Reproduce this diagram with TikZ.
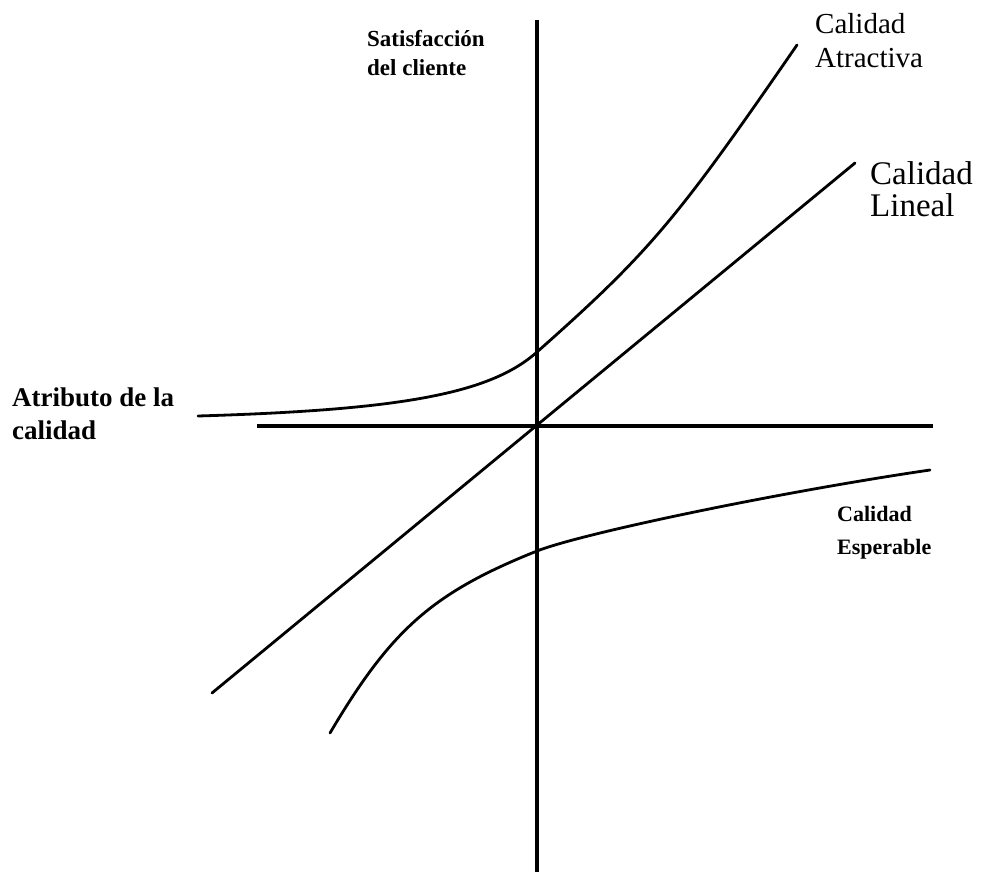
\documentclass[tikz,border=0pt]{standalone}
\usepackage{fontspec}
\setmainfont{Liberation Serif}

\begin{document}
\begin{tikzpicture}[x=1pt, y=-1pt,
  axis/.style={line width=3.2pt},
  curve/.style={line width=2.8pt, line cap=round},
  lbl/.style={inner sep=0pt, anchor=north west, align=left}]
\useasboundingbox (0,0) rectangle (986,872);
\draw[axis] (537,20) -- (537,872);
\draw[axis] (257,426) -- (933,426);
\draw[curve] (212,693) -- (855,163);
\draw[curve] (198,416) .. controls (400,410) and (490,394) .. (537,352)
  .. controls (651,251) and (677,219) .. (797,45);
\draw[curve] (330,733) .. controls (391,630) and (432,593) .. (537,551)
  .. controls (583,533) and (780,492) .. (930,470);
\node[lbl, font=\fontsize{23}{29}\selectfont\bfseries] (satisf) at (367,30) {Satisfacción\\del cliente};
\node[lbl, font=\fontsize{27}{33}\selectfont\bfseries] (atributo) at (12,388) {Atributo de la\\calidad};
\node[lbl, font=\fontsize{29}{34}\selectfont] (atractiva) at (815,13) {Calidad\\Atractiva};
\node[lbl, font=\fontsize{33}{32}\selectfont] (lineal) at (870,161) {Calidad\\Lineal};
\node[lbl, font=\fontsize{22}{33}\selectfont\bfseries] (esperable) at (837,506) {Calidad\\Esperable};
\end{tikzpicture}
\end{document}
